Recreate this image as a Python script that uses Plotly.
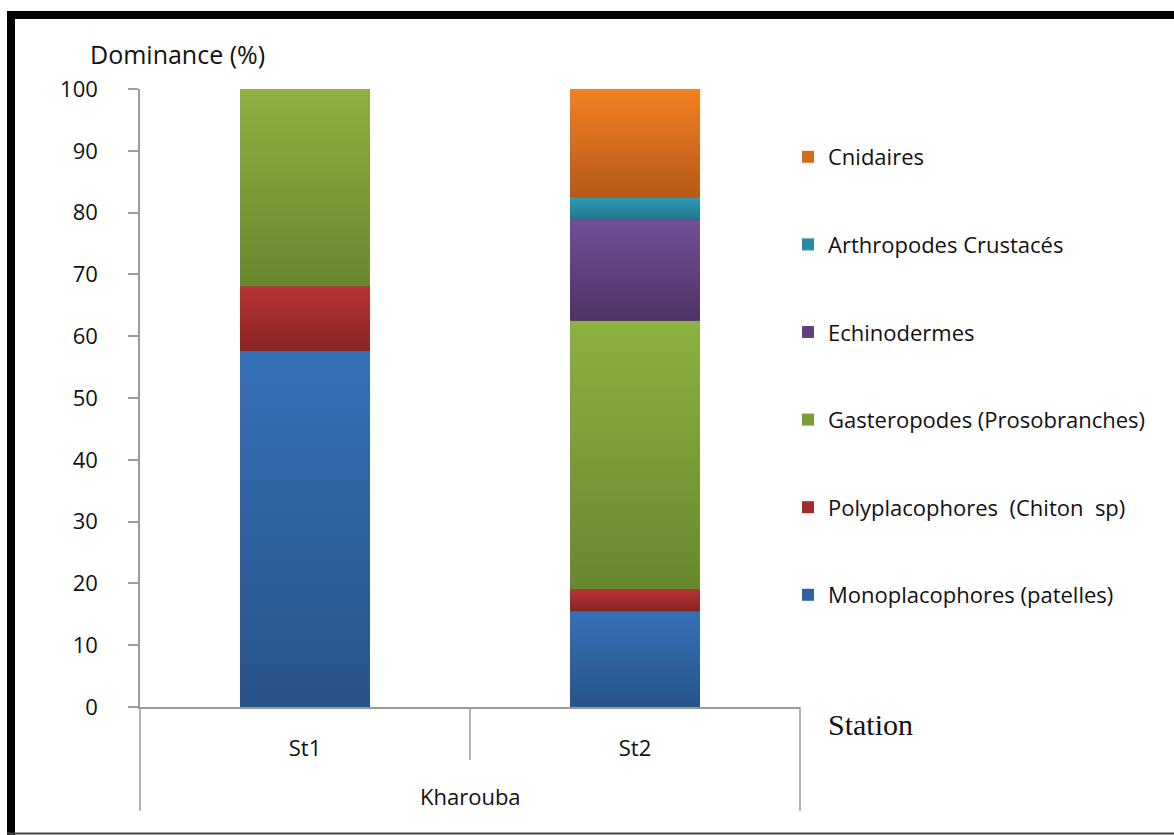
import plotly.graph_objects as go

stations = ["St1", "St2"]
group_label = "Kharouba"
series_names = [
    "Monoplacophores (patelles)",
    "Polyplacophores  (Chiton  sp)",
    "Gasteropodes (Prosobranches)",
    "Echinodermes",
    "Arthropodes Crustacés",
    "Cnidaires",
]
mono = [57.6, 15.5]
poly = [10.5, 3.6]
gast = [31.9, 43.4]
echi = [0, 16.4]
arth = [0, 3.5]
cnid = [0, 17.6]
series_values = [mono, poly, gast, echi, arth, cnid]
y_ticks = list(range(0, 101, 10))

# (flat, light top, dark bottom)
colors = ["#2F62A0", "#A22C2C", "#7A9D38", "#5F4380", "#288AA3", "#D46D1E"]
grad_top = ["#3671B8", "#B93434", "#8CB140", "#705097", "#2E9CBA", "#F28123"]
grad_bot = ["#285389", "#882424", "#68882F", "#4E3366", "#237689", "#B65916"]

FONT = "Open Sans"
W, H = 1174, 835
L, R, T, B = 140, 800, 89, 707
BAR_W = 0.394


def px(x):
    return (x - L) / (R - L)


def py(y):
    return (B - y) / (B - T)


xpos = list(range(len(stations)))
fig = go.Figure()
for i, (name, vals, col) in enumerate(zip(series_names, series_values, colors)):
    fig.add_trace(go.Bar(
        x=xpos, y=vals, name=name, marker=dict(color=col, line=dict(width=0)),
        width=BAR_W, legendgroup=f"g{i}", legendrank=100 - i,
    ))

# gradient overlay on each stacked segment (Excel-like shading)
base = [0.0] * len(stations)
for i, vals in enumerate(series_values):
    for j, v in enumerate(vals):
        if v > 0:
            x0, x1 = xpos[j] - BAR_W / 2, xpos[j] + BAR_W / 2
            y0, y1 = base[j], base[j] + v
            fig.add_trace(go.Scatter(
                x=[x0, x1, x1, x0, x0], y=[y0, y0, y1, y1, y0], mode="lines",
                fill="toself", line=dict(width=0, color="rgba(0,0,0,0)"),
                fillgradient=dict(type="vertical", colorscale=[[0, grad_bot[i]], [1, grad_top[i]]]),
                showlegend=False, hoverinfo="skip",
            ))
        base[j] += v

axis_col = "#9A9A9A"
shapes = [
    dict(type="rect", xref="paper", yref="paper", x0=px(7), x1=px(15), y0=py(11), y1=py(835),
         fillcolor="black", line=dict(width=0), layer="above"),
    dict(type="rect", xref="paper", yref="paper", x0=px(7), x1=px(1174), y0=py(11), y1=py(19),
         fillcolor="black", line=dict(width=0), layer="above"),
    dict(type="line", xref="paper", yref="paper", x0=px(7), x1=px(1174), y0=py(833.5), y1=py(833.5),
         line=dict(color="#444444", width=2)),
    dict(type="line", xref="paper", yref="paper", x0=0, x1=0, y0=0, y1=py(811),
         line=dict(color=axis_col, width=1.5)),
    dict(type="line", xref="paper", yref="paper", x0=1, x1=1, y0=0, y1=py(811),
         line=dict(color=axis_col, width=1.5)),
    dict(type="line", xref="x", yref="paper", x0=0.5, x1=0.5, y0=0, y1=py(760),
         line=dict(color=axis_col, width=1.5)),
]

annotations = [
    dict(text="Dominance (%)", xref="paper", yref="paper", x=px(88), y=py(54), xanchor="left",
         yanchor="middle", showarrow=False, font=dict(family=FONT, size=25, color="#111111")),
    dict(text=group_label, xref="x", yref="paper", x=0.5, y=py(796), xanchor="center",
         yanchor="middle", showarrow=False, font=dict(family=FONT, size=22, color="#111111")),
    dict(text="Station", xref="paper", yref="paper", x=px(826), y=py(724), xanchor="left",
         yanchor="middle", showarrow=False, font=dict(family="Liberation Serif", size=30, color="#111111")),
]

fig.update_layout(
    width=W, height=H, barmode="stack",
    margin=dict(l=L, r=W - R, t=T, b=H - B, pad=0),
    paper_bgcolor="white", plot_bgcolor="white",
    font=dict(family=FONT, size=22, color="#111111"),
    shapes=shapes, annotations=annotations,
    legend=dict(x=px(788), y=py(136), xanchor="left", yanchor="top",
                traceorder="grouped", tracegroupgap=56,
                font=dict(family=FONT, size=22, color="#111111"), bgcolor="rgba(0,0,0,0)"),
    xaxis=dict(range=[-0.5, 1.5], tickvals=xpos, ticktext=stations, showline=True,
               linecolor=axis_col, linewidth=1.5, ticks="", showgrid=False, zeroline=False,
               ticklabelstandoff=21, tickfont=dict(family=FONT, size=22)),
    yaxis=dict(range=[0, 100], tickvals=y_ticks, showline=True, linecolor=axis_col, linewidth=1.5,
               ticks="outside", ticklen=10, tickcolor=axis_col, tickwidth=1.5,
               showgrid=False, zeroline=False, ticklabelstandoff=26,
               tickfont=dict(family=FONT, size=22)),
)

fig.write_html("out.html")
